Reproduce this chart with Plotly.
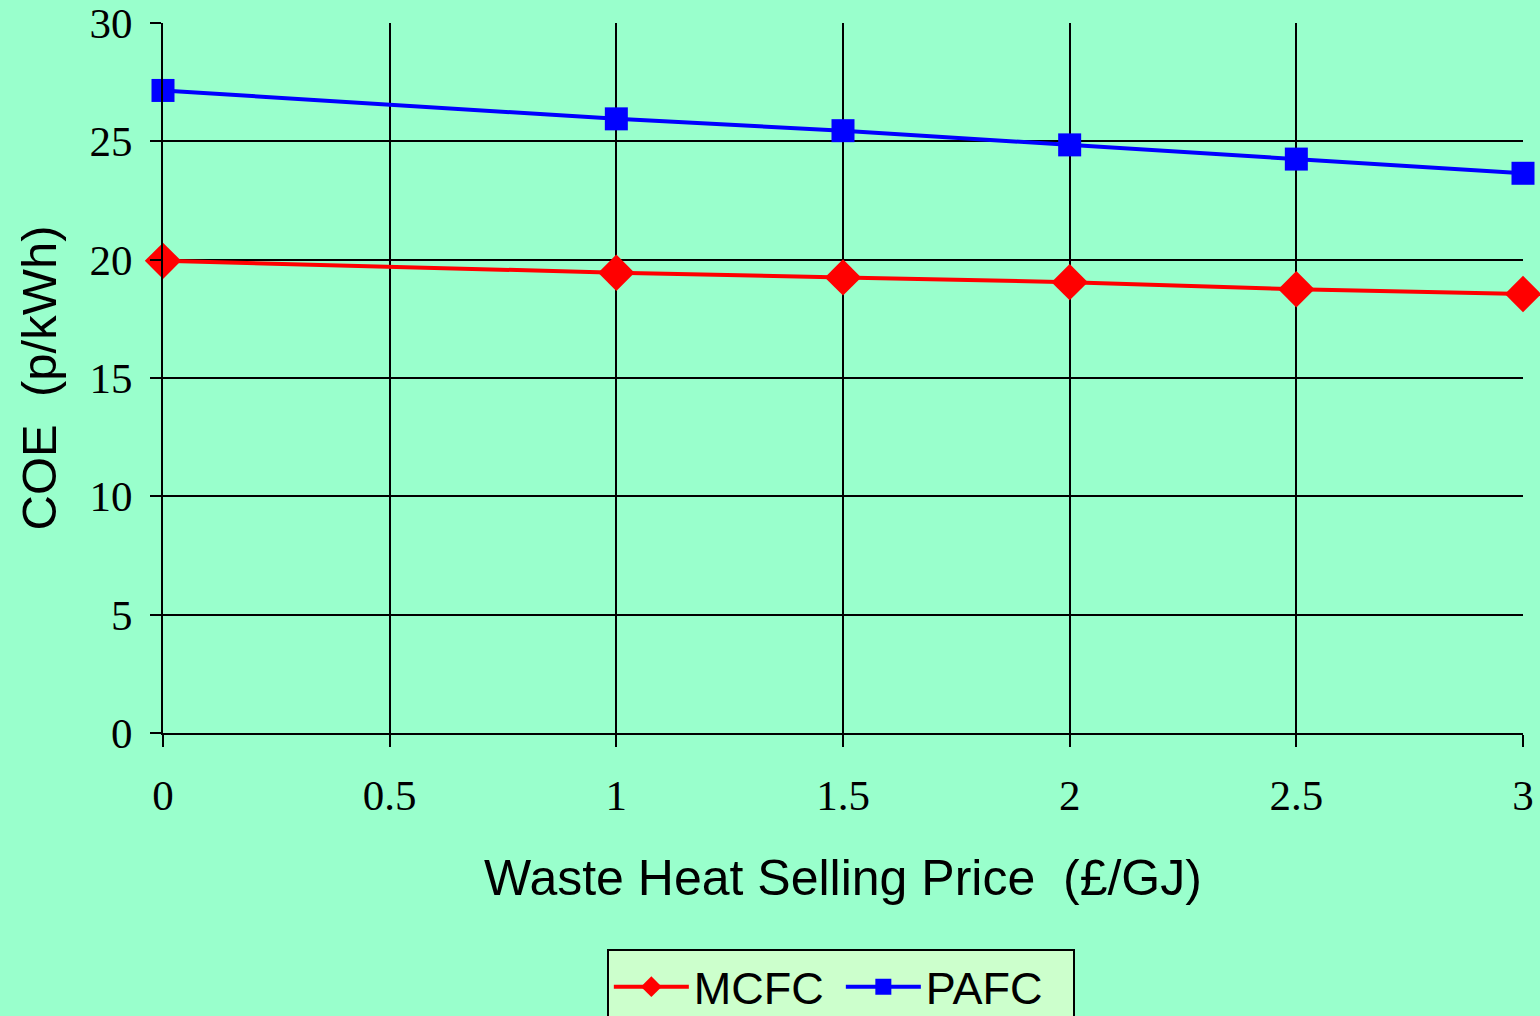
import plotly.graph_objects as go

# waste heat selling price (£/GJ)
price = [0, 1, 1.5, 2, 2.5, 3]
# cost of electricity (p/kWh)
mcfc = [19.95, 19.45, 19.25, 19.05, 18.75, 18.55]
pafc = [27.15, 25.95, 25.45, 24.85, 24.25, 23.65]

x_ticks = [0, 0.5, 1, 1.5, 2, 2.5, 3]
y_ticks = [0, 5, 10, 15, 20, 25, 30]

fig = go.Figure()
fig.add_trace(go.Scatter(
    x=price, y=mcfc, name="MCFC", mode="lines+markers",
    line=dict(color="#FF0000", width=4),
    marker=dict(symbol="diamond", size=28, color="#FF0000"),
    cliponaxis=False,
))
fig.add_trace(go.Scatter(
    x=price, y=pafc, name="PAFC", mode="lines+markers",
    line=dict(color="#0000FF", width=4),
    marker=dict(symbol="square", size=23, color="#0000FF"),
    cliponaxis=False,
))

fig.update_layout(
    width=1540, height=1016, autosize=False,
    margin=dict(l=163, r=17, t=23, b=283),
    paper_bgcolor="#99FFCC",
    plot_bgcolor="#99FFCC",
    font=dict(family="Liberation Sans, Arial", color="black"),
    legend=dict(
        orientation="h", xref="container", yref="container",
        x=0.546, xanchor="center", y=0.066, yanchor="top",
        bgcolor="#CCFFCC", bordercolor="black", borderwidth=2,
        font=dict(size=45, family="Liberation Sans, Arial"),
        itemwidth=75, entrywidth=142,
    ),
    showlegend=True,
)

fig.update_xaxes(
    range=[0, 3], tickvals=x_ticks, ticktext=[str(v) for v in x_ticks],
    automargin=False,
    showgrid=True, gridcolor="black", gridwidth=2,
    zeroline=False, showline=True, linecolor="black", linewidth=2,
    ticks="outside", ticklen=12, tickwidth=2, tickcolor="black",
    tickfont=dict(family="Liberation Serif, Times New Roman", size=43),
    ticklabelstandoff=11,
    title=dict(text="Waste Heat Selling Price  (£/GJ)",
               font=dict(size=50, family="Liberation Sans, Arial"), standoff=42),
)
fig.update_yaxes(
    range=[0, 30], tickvals=y_ticks,
    automargin=False,
    showgrid=True, gridcolor="black", gridwidth=2,
    zeroline=False, showline=True, linecolor="black", linewidth=2,
    ticks="outside", ticklen=11, tickwidth=2, tickcolor="black",
    tickfont=dict(family="Liberation Serif, Times New Roman", size=43),
    ticklabelstandoff=9,
    title=dict(text="COE  (p/kWh)",
               font=dict(size=49, family="Liberation Sans, Arial"), standoff=17),
)

fig.write_html("out.html", config={"displayModeBar": False},
               post_script="document.body.style.margin='0';")
